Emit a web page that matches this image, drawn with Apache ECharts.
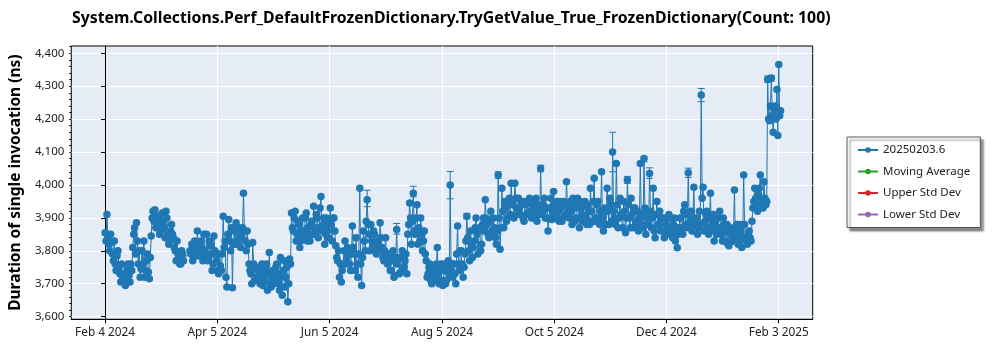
<!DOCTYPE html>
<html><head><meta charset="utf-8">
<script src="https://cdn.jsdelivr.net/npm/echarts@6/dist/echarts.min.js"></script>
<style>html,body{margin:0;padding:0;background:#fff}#c{width:1000px;height:350px}</style>
</head><body><div id="c"></div>
<script>
const titleText = 'System.Collections.Perf_DefaultFrozenDictionary.TryGetValue_True_FrozenDictionary(Count: 100)';
const yAxisName = 'Duration of single invocation (ns)';
const seriesNames = ['20250203.6', 'Moving Average', 'Upper Std Dev', 'Lower Std Dev'];

// first run of each day, day 0 = Feb 4 2024 (null = no run that day)
const values = [
3855,3910,3820,3850,3790,3830,3740,3800,3730,3760,
3710,3695,3745,3725,3760,3810,3870,3885,3760,3720,
3800,3830,3740,3790,3715,3845,3920,3925,3880,3900,
3860,3915,3870,3920,3850,3830,3880,3840,3800,3830,
3780,3760,3790,null,null,null,3800,3820,3780,3805,
3860,3790,3830,3770,3800,3850,3780,3815,3740,3845,
3790,3740,3790,3740,3905,3830,3690,3895,3800,3688,
3860,3885,3820,3850,3840,3975,3830,3860,3760,3730,
3825,3750,3720,3740,3700,3760,3725,3745,3680,3795,
3690,3740,3715,3760,3700,3780,3665,3770,3720,3645,
3775,3915,3860,3920,3850,3880,3830,3900,3860,3915,
3870,3830,3890,3935,3850,3900,3870,3965,3880,3820,
3900,3840,3930,3830,3900,3815,3770,3720,3705,3760,
3830,3780,3800,3740,3875,3790,3840,3720,3990,3695,
3860,3800,3955,3850,3880,3820,3850,3790,3830,3885,
3810,3770,3840,3760,3790,3740,3800,3725,3865,3780,
3735,3800,3750,3790,3850,3945,3820,3975,3850,3940,
3870,3900,3800,3860,3770,3730,3760,3700,3745,3720,
3810,3700,3760,3695,3740,3710,3770,4000,3720,3760,
3700,3875,3740,3800,3720,3790,3905,3800,3860,3780,
3830,3900,3790,3870,3820,3900,3955,3880,3840,3920,
3850,3870,3820,4030,3805,3990,3870,3930,3900,3960,
4005,3940,4005,3930,3960,3910,3945,3890,3940,3915,
3960,3900,3950,3920,3890,3940,4050,3920,3960,3900,
3860,3930,3895,3980,3910,3950,3890,3930,3900,3940,
4010,3920,3950,3880,3940,3900,3960,3870,3930,3890,
3950,3880,3920,3990,3890,4020,3900,3950,3880,4040,
3860,3920,3990,3880,3940,4100,3900,4065,3870,3960,
3910,3950,3855,4015,3900,3960,3870,3930,3890,3860,
4065,3880,4080,3850,3920,4035,3870,3990,3840,3950,
3880,3860,3900,3840,3880,3860,3900,3850,3880,3830,
3809,3870,3900,3850,3940,3870,4037,3890,3860,3993,
3880,3850,3920,4273,3993,3890,3920,3850,3975,3880,
3830,3900,3860,3920,3850,3900,3830,3880,3815,3870,
3830,3985,3850,3820,3880,3810,4030,3840,3820,3860,
3830,3930,3990,3940,3970,4030,3950,4010,3940,4320,
4195,4325,4160,4240,4290,4366,4225
];

// second run of each day (half a day later)
const values2 = [
3830,3845,3800,3825,3770,3760,3785,3750,3705,3720,
3730,3720,3760,3705,3740,3850,3790,3830,3800,3745,
3760,3720,3770,3735,3780,3900,3890,3870,3905,3850,
3890,3880,3840,3900,3820,3860,3850,3810,3770,3790,
3760,3800,3770,null,null,null,3790,3770,3830,3785,
3815,3810,3780,3850,3790,3770,3830,3790,3760,3800,
3770,3730,3755,3790,3810,3720,3850,3830,3870,3820,
3820,3830,3870,3810,3870,3860,3800,3820,3740,3700,
3760,3710,3750,3720,3730,3695,3710,3760,3730,3700,
3720,3700,3750,3730,3680,3720,3740,3690,3750,3700,
3760,3870,3900,3830,3890,3810,3860,3840,3900,3830,
3850,3880,3850,3870,3910,3840,3930,3860,3900,3850,
3860,3880,3880,3900,3860,3780,3800,3760,3740,3800,
3760,3810,3760,3790,3810,3740,3760,3790,3760,3780,
3830,3890,3880,3800,3830,3860,3800,3820,3800,3840,
3780,3800,3770,3780,3740,3770,3720,3780,3760,3730,
3780,3740,3770,3730,3880,3900,3890,3860,3900,3820,
3830,3850,3830,3790,3720,3750,3710,3730,3710,3760,
3730,3740,3710,3760,3700,3750,3730,3740,3760,3730,
3790,3760,3800,3760,3750,3830,3840,3770,3820,3810,
3870,3850,3860,3800,3880,3860,3900,3850,3890,3860,
3900,3840,3860,3900,3870,3920,3950,3890,3940,3910,
3950,3900,3960,3910,3930,3950,3900,3950,3910,3950,
3920,3940,3900,3960,3920,3910,3930,3940,3900,3930,
3900,3960,3920,3940,3900,3920,3950,3890,3950,3910,
3940,3900,3920,3960,3890,3930,3900,3950,3910,3940,
3900,3940,3880,3920,3950,3890,3940,3900,3920,3900,
3930,3880,3920,3960,3890,3920,3880,3940,3900,3910,
3870,3920,3900,3940,3870,3910,3930,3880,3920,3900,
3910,3870,3930,3900,3880,3920,3900,3860,3910,3880,
3920,3900,3860,3900,3850,3910,3870,3840,3900,3860,
3850,3900,3870,3920,3880,3910,3880,3920,3900,3880,
3900,3870,3880,3960,3860,3910,3870,3900,3860,3910,
3880,3850,3900,3870,3830,3880,3860,3820,3850,3830,
3860,3840,3880,3830,3860,3840,3880,3830,3850,3840,
3890,3950,3960,3920,3990,3960,3930,3960,3950,4200,
4240,4210,4230,4200,4150,4210
];

// [day, low, high]
const errorBars = [
[142,3934,3984],[158,3851,3883],[167,3964,3996],[187,3958,4041],[196,3897,3913],
[213,4020,4040],[236,4040,4060],[275,4040,4160],[283,4005,4026],[292,4070,4085],
[295,4020,4052],[316,4023,4051],[323,4253,4293],[359,4312,4331],[361,4315,4332]
];

const xTickDays = [0, 60.83, 121.67, 182.5, 243.33, 304.17, 365];
const xTickLabels = ['Feb 4 2024', 'Apr 5 2024', 'Jun 5 2024', 'Aug 5 2024', 'Oct 5 2024', 'Dec 4 2024', 'Feb 3 2025'];
const yTickValues = [3600, 3700, 3800, 3900, 4000, 4100, 4200, 4300, 4400];
const yMinorTicks = [];
for (let v = 3600; v <= 4420; v += 20) yMinorTicks.push(v);

const FONT = '"Noto Sans", "Open Sans", sans-serif';
const BLUE = '#1f77b4';
const mainData = [];
values.forEach((v, d) => {
  mainData.push([d, v]);
  if (d < values2.length) mainData.push([d + 0.5, values2[d]]);
});

const chart = echarts.init(document.getElementById('c'));
chart.setOption({
  animation: false,
  backgroundColor: '#fff',
  textStyle: { fontFamily: FONT },
  title: {
    text: titleText, left: 72, top: 10, padding: 0,
    textStyle: { fontFamily: FONT, fontSize: 15.8, fontWeight: 'bold', color: '#000' }
  },
  grid: {
    left: 63.3, right: 187.3, top: 46, bottom: 30.7,
    show: true, backgroundColor: '#e5ecf6', borderColor: '#000', borderWidth: 1
  },
  legend: {
    orient: 'vertical', left: 847, top: 137,
    data: seriesNames,
    backgroundColor: '#fff', borderColor: '#555', borderWidth: 1,
    shadowColor: 'rgba(0,0,0,0.45)', shadowBlur: 2, shadowOffsetX: 3, shadowOffsetY: 3,
    padding: [6, 10, 6, 10], itemGap: 7.5, itemWidth: 20, itemHeight: 7,
    textStyle: { fontFamily: FONT, fontSize: 11.5, color: '#222', lineHeight: 14 }
  },
  xAxis: {
    type: 'value', min: -18.3, max: 383.4,
    axisLine: { show: true, onZero: false, lineStyle: { color: '#000' } },
    axisTick: { show: true, customValues: xTickDays, length: 4, lineStyle: { color: '#000' } },
    axisLabel: {
      customValues: xTickDays, margin: 7, fontSize: 11.8, color: '#222', fontFamily: FONT,
      formatter: v => { const i = xTickDays.findIndex(t => Math.abs(t - v) < 0.01); return i >= 0 ? xTickLabels[i] : ''; }
    },
    splitLine: { show: true, lineStyle: { color: '#fff', width: 1 } }
  },
  yAxis: [{
    type: 'value', min: 3592, max: 4422,
    name: yAxisName, nameLocation: 'middle', nameGap: 44, nameRotate: 90,
    nameTextStyle: { fontFamily: FONT, fontSize: 15.5, fontWeight: 'bold', color: '#000' },
    axisLine: { show: true, lineStyle: { color: '#000' } },
    axisTick: { show: true, customValues: yTickValues, length: 4, lineStyle: { color: '#000' } },
    axisLabel: {
      customValues: yTickValues, margin: 7, fontSize: 11.5, color: '#222', fontFamily: FONT,
      formatter: v => v.toLocaleString('en-US')
    },
    splitLine: { show: true, lineStyle: { color: '#fff', width: 1 } }
  }, {
    type: 'value', min: 3592, max: 4422, position: 'left',
    axisLine: { show: false },
    axisTick: { show: true, customValues: yMinorTicks, length: 2, lineStyle: { color: '#000' } },
    axisLabel: { show: false },
    splitLine: { show: false }
  }],
  series: [
    {
      name: seriesNames[0], type: 'line', data: mainData, connectNulls: true,
      symbol: 'circle', symbolSize: 7.5, showAllSymbol: true,
      itemStyle: { color: BLUE }, lineStyle: { color: BLUE, width: 1 }, z: 3
    },
    {
      name: 'errorbars', type: 'custom', data: errorBars, encode: { x: 0, y: [1, 2] }, z: 2,
      renderItem: (params, api) => {
        const lo = api.coord([api.value(0), api.value(1)]);
        const hi = api.coord([api.value(0), api.value(2)]);
        const hw = 3.5, st = { stroke: BLUE, lineWidth: 1 };
        return { type: 'group', children: [
          { type: 'line', shape: { x1: lo[0], y1: lo[1], x2: hi[0], y2: hi[1] }, style: st },
          { type: 'line', shape: { x1: lo[0] - hw, y1: lo[1], x2: lo[0] + hw, y2: lo[1] }, style: st },
          { type: 'line', shape: { x1: hi[0] - hw, y1: hi[1], x2: hi[0] + hw, y2: hi[1] }, style: st }
        ]};
      }
    },
    { name: seriesNames[1], type: 'line', data: [], symbol: 'circle', itemStyle: { color: '#2ca02c' }, lineStyle: { color: '#2ca02c' } },
    { name: seriesNames[2], type: 'line', data: [], symbol: 'circle', itemStyle: { color: '#d62728' }, lineStyle: { color: '#d62728' } },
    { name: seriesNames[3], type: 'line', data: [], symbol: 'circle', itemStyle: { color: '#9467bd' }, lineStyle: { color: '#9467bd' } }
  ]
});
</script></body></html>
